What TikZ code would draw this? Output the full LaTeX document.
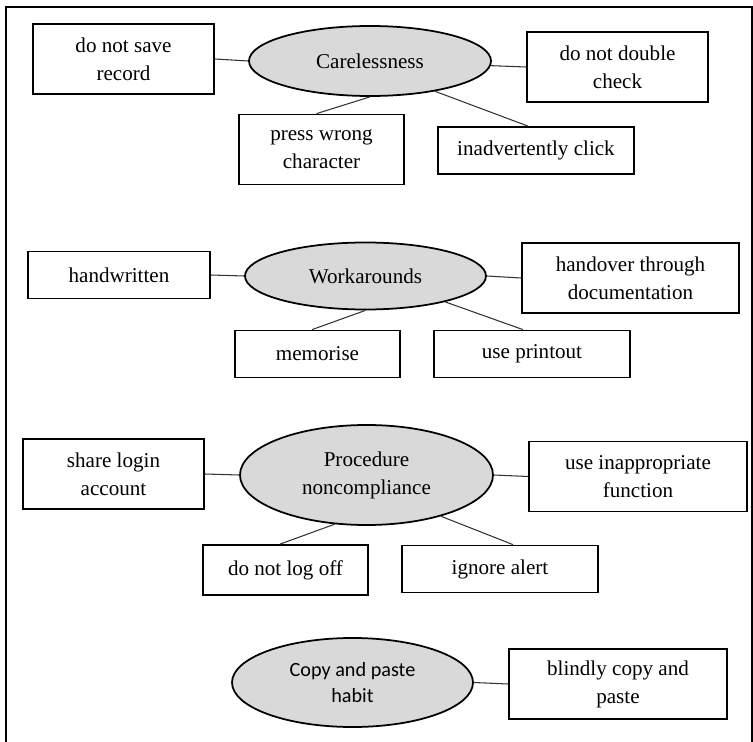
\documentclass[tikz,border=0pt]{standalone}
\usepackage{fontspec}
\setmainfont{Liberation Serif}
\newfontfamily\calibri{Carlito}
\usepackage{tikz}
\usetikzlibrary{positioning, shapes.geometric}
\tikzstyle{box} = [rectangle, draw=black, line width=1pt, text centered, align=center, inner sep=2pt, font=\fontsize{12}{16}\selectfont]
\tikzstyle{twoline} = [box, minimum height=1.4cm]
\tikzstyle{oneline} = [box, minimum height=0.94cm]
\tikzstyle{cause} = [ellipse, draw=black, line width=1pt, fill=black!15, align=center, inner sep=0pt, font=\fontsize{12}{16}\selectfont]
\tikzstyle{link} = [line width=0.6pt, black!80]
\tikzstyle{frame} = [line width=0.6pt, black]

\begin{document}
\begin{tikzpicture}[node distance=4.93cm]
  \useasboundingbox (0,0) rectangle (15.06,-14.84);
  % Rahmen
  \draw [frame] (0.12,-14.84) -- (0.12,-0.14) -- (15.04,-0.14) -- (15.04,-14.84);
  % Carelessness
  \node (care) [cause, minimum width=4.84cm, minimum height=1.4cm] at (7.40,-1.22) {Carelessness};
  \node (nosave) [twoline, minimum width=3.62cm, left of=care, yshift=0.04cm] {do not save\\record};
  \node (nocheck) [twoline, minimum width=3.62cm, right of=care, xshift=0.02cm, yshift=-0.12cm] {do not double\\check};
  \node (wrongchar) [twoline, minimum width=3.3cm, node distance=1.77cm, below of=care, xshift=-0.97cm] {press wrong\\character};
  \node (click) [oneline, minimum width=3.92cm, node distance=1.79cm, below of=care, xshift=3.32cm] {inadvertently click};
  % Workarounds
  \node (work) [cause, minimum width=4.82cm, minimum height=1.34cm] at (7.31,-5.52) {Workarounds};
  \node (handwr) [oneline, minimum width=3.64cm, left of=work, yshift=0.02cm] {handwritten};
  \node (handover) [twoline, minimum width=4.34cm, right of=work, xshift=0.37cm, yshift=-0.04cm] {handover through\\documentation};
  \node (memo) [oneline, minimum width=3.3cm, node distance=1.56cm, below of=work, xshift=-0.96cm] {memorise};
  \node (printout) [oneline, minimum width=3.92cm, node distance=1.56cm, below of=work, xshift=3.33cm] {use printout};
  % Procedure noncompliance
  \node (proc) [cause, minimum width=5.06cm, minimum height=2cm] at (7.33,-9.50) {Procedure\\noncompliance};
  \node (share) [twoline, minimum width=3.62cm, left of=proc, xshift=-0.13cm, yshift=0.02cm] {share login\\account};
  \node (wrongfn) [twoline, minimum width=4.36cm, right of=proc, xshift=0.50cm, yshift=-0.03cm] {use inappropriate\\function};
  \node (logoff) [oneline, minimum width=3.3cm, minimum height=1cm, node distance=1.9cm, below of=proc, xshift=-1.62cm] {do not log off};
  \node (alert) [oneline, minimum width=3.92cm, node distance=1.88cm, below of=proc, xshift=2.67cm] {ignore alert};
  % Copy and paste habit
  \node (copy) [cause, minimum width=4.82cm, minimum height=1.78cm, font=\calibri\fontsize{11.5}{14.5}\selectfont] at (7.05,-13.65) {Copy and paste\\habit};
  \node (blind) [twoline, minimum width=4.36cm, right of=copy, xshift=0.38cm, yshift=-0.03cm] {blindly copy and\\paste};
  % Linien
  \draw [link] (nosave.east) -- (care.west);
  \draw [link] (care) -- (nocheck.west);
  \draw [link] (care.south) -- ([xshift=-0.1cm]wrongchar.north);
  \draw [link] (care.-25) -- ([xshift=-0.16cm]click.north);
  \draw [link] (handwr.east) -- (work.west);
  \draw [link] (work.east) -- (handover.west);
  \draw [link] (work.south) -- ([xshift=-0.11cm]memo.north);
  \draw [link] (work.-18) -- ([xshift=-0.18cm]printout.north);
  \draw [link] (share.east) -- (proc.west);
  \draw [link] (proc.east) -- (wrongfn.west);
  \draw [link] (proc.-123) -- ([xshift=-0.11cm]logoff.north);
  \draw [link] (proc.-29) -- ([xshift=0.26cm]alert.north);
  \draw [link] (copy.east) -- (blind.west);
\end{tikzpicture}
\end{document}
